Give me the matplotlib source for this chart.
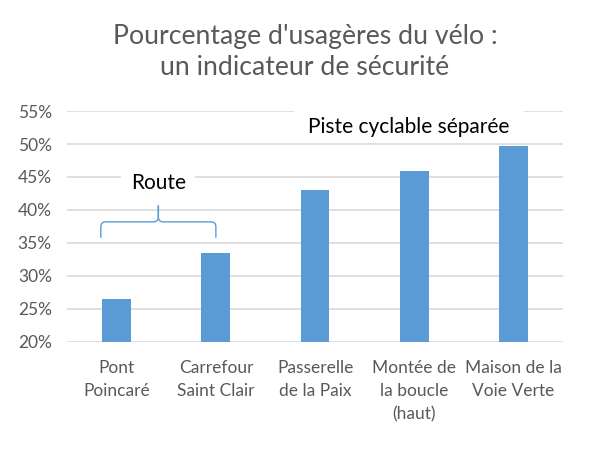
import numpy as np
import matplotlib.pyplot as plt
from matplotlib.patches import Rectangle
from matplotlib.ticker import PercentFormatter

# data
sites = ["Pont\nPoincaré", "Carrefour\nSaint Clair", "Passerelle\nde la Paix",
         "Montée de\nla boucle\n(haut)", "Maison de la\nVoie Verte"]
share = [26.5, 33.5, 43.0, 45.9, 49.7]
yticks = [20, 25, 30, 35, 40, 45, 50, 55]

blue = "#5b9bd5"
grey = "#595959"
plt.rcParams['font.family'] = ['Lato', 'DejaVu Sans']

fig = plt.figure(figsize=(6.1, 4.67), dpi=100)
ax = fig.add_axes([0.110, 0.2677, 0.813, 0.4946])

x = np.arange(len(sites))
ax.bar(x, share, width=0.29, color=blue, bottom=0, zorder=3)
ax.set_xlim(-0.5, len(sites) - 0.5)
ax.set_ylim(20, 55)
ax.set_yticks(yticks)
ax.yaxis.set_major_formatter(PercentFormatter(decimals=0))
ax.set_xticks(x)
ax.set_xticklabels(sites, linespacing=1.55)
ax.grid(axis='y', color='#d9d9d9', linewidth=1.2, zorder=0)
for s in ax.spines.values():
    s.set_visible(False)
ax.tick_params(length=0, labelsize=12.5, labelcolor=grey)
ax.tick_params(axis='y', pad=11)
ax.tick_params(axis='x', pad=13)

fig.suptitle("Pourcentage d'usagères du vélo :\nun indicateur de sécurité",
             y=0.948, fontsize=19.2, color=grey, linespacing=1.3)

# group labels
ax.add_patch(Rectangle((1.784, 50.15), 2.32, 5.3, facecolor='white',
                       edgecolor='none', zorder=4, clip_on=False))
ax.text(2.94, 52.6, "Piste cyclable séparée", ha='center', va='center',
        fontsize=15, color='black', zorder=5)
ax.text(0.418, 44.1, "Route", ha='center', va='center',
        fontsize=15, color='black', zorder=5,
        bbox=dict(facecolor='white', edgecolor='none', boxstyle='square,pad=0.45'))

# brace over the two road sites
x0, x1 = -0.16, 1.0
ylow, ymid, ytip = 35.9, 38.2, 40.6
xm = (x0 + x1) / 2
def qcurve(p0, p1, p2, n=12):
    t = np.linspace(0, 1, n)[:, None]
    return (1 - t) ** 2 * np.array(p0) + 2 * (1 - t) * t * np.array(p1) + t ** 2 * np.array(p2)
dx, dy = 0.05, 0.8
pts = np.vstack([
    [[x0, ylow]],
    qcurve((x0, ymid - dy), (x0, ymid), (x0 + dx, ymid)),
    qcurve((xm - dx, ymid), (xm, ymid), (xm, ymid + dy)),
    [[xm, ytip]],
])
ax.plot(pts[:, 0], pts[:, 1], color=blue, lw=1, zorder=6)
ax.plot(2 * xm - pts[:, 0], pts[:, 1], color=blue, lw=1, zorder=6)

fig.savefig("out.png", dpi=100)
